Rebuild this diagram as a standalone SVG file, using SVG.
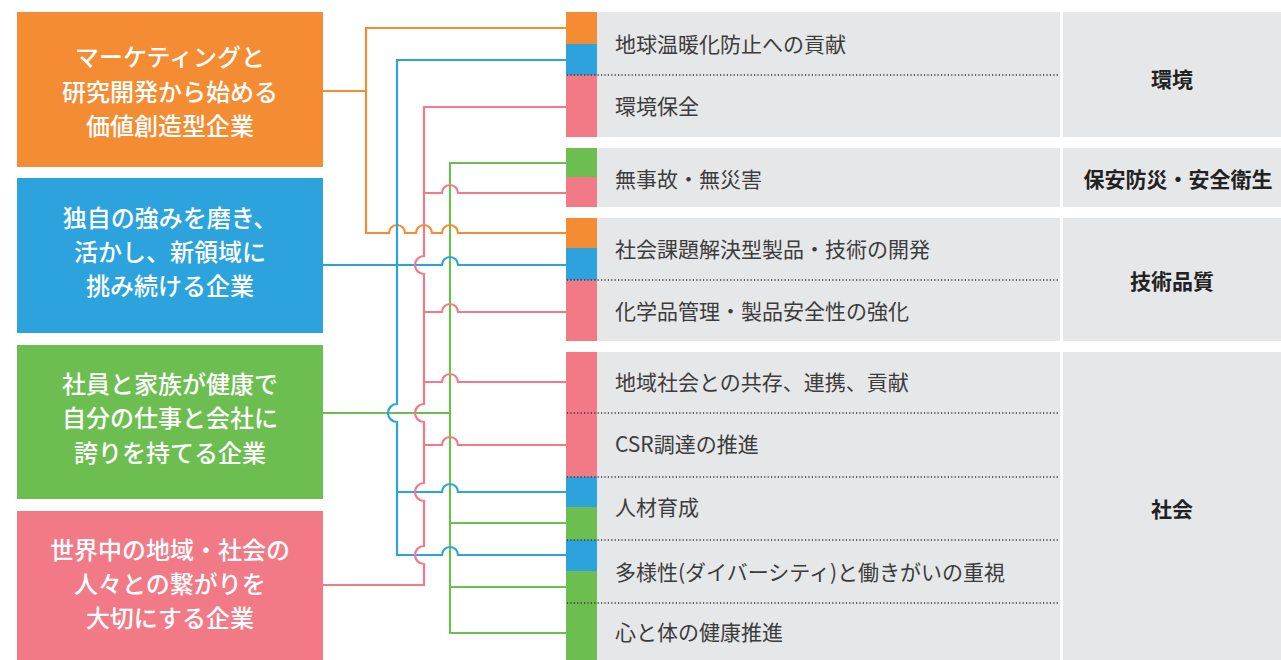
<svg xmlns="http://www.w3.org/2000/svg" width="1281" height="660" viewBox="0 0 1281 660">
<style>
.lt{font-family:"Noto Sans CJK JP","Noto Sans",sans-serif;font-size:24px;font-weight:500;fill:#fff;text-anchor:middle;dominant-baseline:central}
.it{font-family:"Noto Sans CJK JP","Noto Sans",sans-serif;font-size:21px;font-weight:400;fill:#3c3c3c;dominant-baseline:central}
.ct{font-family:"Noto Sans CJK JP","Noto Sans",sans-serif;font-size:21px;font-weight:700;fill:#222;text-anchor:middle;dominant-baseline:central}
.gb{fill:#E6E7E9}
.dot{stroke:#333;stroke-width:1.3;stroke-dasharray:1.2 2.2;fill:none}
.c{fill:none;stroke-width:2.2;stroke-linejoin:miter}
.o{fill:#F48C34}.b{fill:#2CA3DC}.g{fill:#6DBE51}.p{fill:#F27A87}
.so{stroke:#F48C34}.sb{stroke:#2CA3DC}.sg{stroke:#6DBE51}.sp{stroke:#F27A87}
</style>
<rect width="1281" height="660" fill="#fff"/>

<g id="left-orange"><rect class="o" x="17" y="12" width="306" height="155"/>
<text class="lt" x="170" y="55">マーケティングと</text><text class="lt" x="170" y="90">研究開発から始める</text><text class="lt" x="170" y="124">価値創造型企業</text></g>
<g id="left-blue"><rect class="b" x="17" y="178" width="306" height="155"/>
<text class="lt" x="170" y="216">独自の強みを磨き、</text><text class="lt" x="170" y="250">活かし、新領域に</text><text class="lt" x="170" y="284">挑み続ける企業</text></g>
<g id="left-green"><rect class="g" x="17" y="345" width="306" height="154"/>
<text class="lt" x="170" y="382">社員と家族が健康で</text><text class="lt" x="170" y="416">自分の仕事と会社に</text><text class="lt" x="170" y="451">誇りを持てる企業</text></g>
<g id="left-pink"><rect class="p" x="17" y="511" width="306" height="149"/>
<text class="lt" x="170" y="548">世界中の地域・社会の</text><text class="lt" x="170" y="582">人々との繋がりを</text><text class="lt" x="170" y="616">大切にする企業</text></g>

<g id="cat-env">
<rect class="gb" x="597" y="12" width="463" height="125"/><rect class="gb" x="1063" y="12" width="218" height="125"/>
<rect class="o" x="566" y="12" width="31" height="32"/><rect class="b" x="566" y="44" width="31" height="31"/><rect class="p" x="566" y="75" width="31" height="62"/>
<line class="dot" x1="567" y1="75" x2="1060" y2="75"/>
<text class="it" x="615" y="43">地球温暖化防止への貢献</text>
<text class="it" x="615" y="105">環境保全</text>
<text class="ct" x="1172" y="78">環境</text></g>

<g id="cat-safety">
<rect class="gb" x="597" y="148" width="463" height="59"/><rect class="gb" x="1063" y="148" width="218" height="59"/>
<rect class="g" x="566" y="148" width="31" height="29"/><rect class="p" x="566" y="177" width="31" height="30"/>
<text class="it" x="615" y="178">無事故・無災害</text>
<text class="ct" x="1178" y="178">保安防災・安全衛生</text></g>

<g id="cat-tech">
<rect class="gb" x="597" y="218" width="463" height="123"/><rect class="gb" x="1063" y="218" width="218" height="123"/>
<rect class="o" x="566" y="218" width="31" height="30"/><rect class="b" x="566" y="248" width="31" height="32"/><rect class="p" x="566" y="280" width="31" height="61"/>
<line class="dot" x1="567" y1="280" x2="1060" y2="280"/>
<text class="it" x="615" y="248">社会課題解決型製品・技術の開発</text>
<text class="it" x="615" y="310">化学品管理・製品安全性の強化</text>
<text class="ct" x="1172" y="280">技術品質</text></g>

<g id="cat-society">
<rect class="gb" x="597" y="352" width="463" height="308"/><rect class="gb" x="1063" y="352" width="218" height="308"/>
<rect class="p" x="566" y="352" width="31" height="125"/><rect class="b" x="566" y="477" width="31" height="30"/><rect class="g" x="566" y="507" width="31" height="33"/><rect class="b" x="566" y="540" width="31" height="31"/><rect class="g" x="566" y="571" width="31" height="89"/>
<line class="dot" x1="567" y1="413" x2="1060" y2="413"/>
<line class="dot" x1="567" y1="477" x2="1060" y2="477"/>
<line class="dot" x1="567" y1="540" x2="1060" y2="540"/>
<line class="dot" x1="567" y1="603" x2="1060" y2="603"/>
<text class="it" x="615" y="381">地域社会との共存、連携、貢献</text>
<text class="it" x="615" y="443">CSR調達の推進</text>
<text class="it" x="615" y="506">人材育成</text>
<text class="it" x="615" y="571">多様性(ダイバーシティ)と働きがいの重視</text>
<text class="it" x="615" y="631">心と体の健康推進</text>
<text class="ct" x="1172" y="508">社会</text></g>

<g id="connectors">
<path class="c sg" d="M566,163 H450 V633 H566 M323,413 H450 M450,523 H566 M450,587 H566"/>
<path class="c so" d="M323,91 H366 M566,28 H366 V233 H389 A8,8 0 0 1 405,233 H416 A8,8 0 0 1 432,233 H442 A8,8 0 0 1 458,233 H566"/>
<path class="c sb" d="M566,60 H397 V404 A9,9 0 0 0 397,422 V555 H442 A8,8 0 0 1 458,555 H566 M323,265 H442 A8,8 0 0 1 458,265 H566 M397,492 H442 A8,8 0 0 1 458,492 H566"/>
<path class="c sp" d="M566,107 H424 V256 A9,9 0 0 0 424,274 V404 A9,9 0 0 0 424,422 V483 A9,9 0 0 0 424,501 V546 A9,9 0 0 0 424,564 V585 H323 M424,193 H442 A8,8 0 0 1 458,193 H566 M424,312 H442 A8,8 0 0 1 458,312 H566 M424,382 H442 A8,8 0 0 1 458,382 H566 M424,445 H442 A8,8 0 0 1 458,445 H566"/>
</g>
</svg>
